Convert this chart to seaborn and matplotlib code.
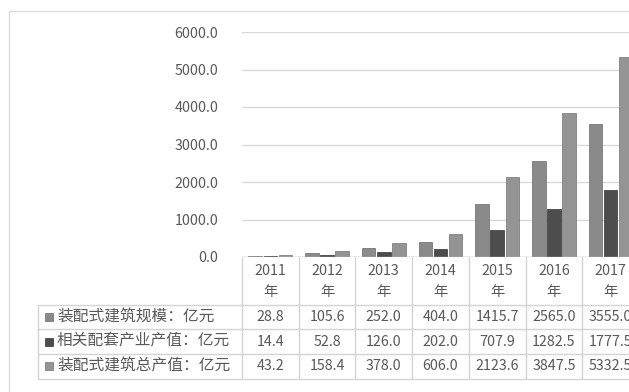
import matplotlib
matplotlib.use("Agg")
import matplotlib.pyplot as plt
from matplotlib.lines import Line2D
from matplotlib.patches import Rectangle
from matplotlib.transforms import blended_transform_factory
import seaborn as sns
import pandas as pd

years = ["2011", "2012", "2013", "2014", "2015", "2016", "2017"]
series_names = ["装配式建筑规模：亿元", "相关配套产业产值：亿元", "装配式建筑总产值：亿元"]
scale_vals = [28.8, 105.6, 252.0, 404.0, 1415.7, 2565.0, 3555.0]
support_vals = [14.4, 52.8, 126.0, 202.0, 707.9, 1282.5, 1777.5]
total_vals = [43.2, 158.4, 378.0, 606.0, 2123.6, 3847.5, 5332.5]
yticks = [0, 1000, 2000, 3000, 4000, 5000, 6000]

colors = ["#8a8a8a", "#4d4d4d", "#949494"]
edges = ["#6a6a6a", "#333333", "#737373"]

sns.set_style("white")
plt.rcParams['font.family'] = ['Noto Sans CJK SC', 'DejaVu Sans']

W, H = 629, 392
fig = plt.figure(figsize=(W / 100, H / 100), dpi=100)
fig.patch.set_facecolor("white")

def fx(px):
    return px / W

def fy(py):
    return 1 - py / H

ax_left, ax_right = 242, 639
ax_top, ax_bot = 32, 257
ax = fig.add_axes([fx(ax_left), fy(ax_bot), fx(ax_right - ax_left), (ax_bot - ax_top) / H])

rows = []
for name, vals in zip(series_names, [scale_vals, support_vals, total_vals]):
    for y, v in zip(years, vals):
        rows.append({"year": y, "series": name, "value": v})
df = pd.DataFrame(rows)

sns.barplot(data=df, x="year", y="value", hue="series", hue_order=series_names,
            palette=colors, width=0.8, gap=0.1, ax=ax, legend=False,
            edgecolor="#555555", linewidth=0.5, saturation=1)
for i, cont in enumerate(ax.containers):
    for p in cont.patches:
        p.set_edgecolor(edges[i])

ax.set_xlim(-0.5, len(years) - 0.5)
ax.set_ylim(0, 6000)
ax.set_yticks(yticks)
ax.set_yticklabels([f"{t:.1f}" for t in yticks])
ax.yaxis.grid(True, color="#d9d9d9", linewidth=1)
ax.set_axisbelow(True)
for s in ax.spines.values():
    s.set_visible(False)
ax.tick_params(axis="y", length=0, pad=17, labelsize=10.3, labelcolor="#595959")
ax.set_xticks([])
ax.set_xlabel("")
ax.set_ylabel("")

text_c = "#595959"
line_c = "#d4d4d4"
tr = blended_transform_factory(ax.transData, fig.transFigure)

# baseline
ax.axhline(0, color="#bfbfbf", linewidth=1)

# chart border
fig.add_artist(Line2D([fx(9), 1.05], [fy(11), fy(11)], color="#dcdcdc", lw=1))
fig.add_artist(Line2D([fx(9), fx(9)], [fy(11), -0.05], color="#dcdcdc", lw=1))

# table verticals
for i in range(len(years) + 1):
    x = -0.5 + i
    fig.add_artist(Line2D([x, x], [fy(257), fy(379)], transform=tr, color=line_c, lw=1))
fig.add_artist(Line2D([fx(38), fx(38)], [fy(305), fy(379)], color=line_c, lw=1))
for yy in [305, 329, 354, 379]:
    fig.add_artist(Line2D([fx(38), 1.05], [fy(yy), fy(yy)], color=line_c, lw=1))

# header
for i, yv in enumerate(years):
    fig.text(i, fy(271), yv, transform=tr, ha="center", va="center", fontsize=10.3, color=text_c)
    fig.text(i, fy(292), "年", transform=tr, ha="center", va="center", fontsize=10.3, color=text_c)

# rows
row_y = [317, 341.5, 366]
for r, (name, vals) in enumerate(zip(series_names, [scale_vals, support_vals, total_vals])):
    yc = row_y[r]
    fig.add_artist(Rectangle((fx(45), fy(yc + 4)), fx(8), 8 / H, facecolor=colors[r],
                             edgecolor=edges[r], lw=0.5))
    fig.text(fx(57), fy(yc), name, ha="left", va="center", fontsize=11.3, color=text_c)
    for i, v in enumerate(vals):
        fig.text(i, fy(yc), f"{v:.1f}", transform=tr, ha="center", va="center",
                 fontsize=10.3, color=text_c)

fig.savefig("out.png", dpi=100)
